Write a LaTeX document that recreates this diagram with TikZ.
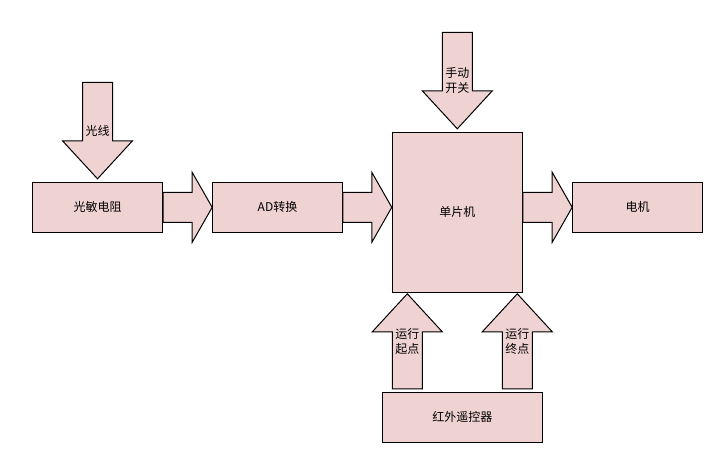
\documentclass[tikz,border=0pt]{standalone}
\usepackage{fontspec}
\setmainfont{Noto Sans CJK SC}
\usetikzlibrary{calc}
\definecolor{boxfill}{HTML}{EFD3D2}
\tikzset{
  blk/.style={draw=black, fill=boxfill, line width=1pt, line join=miter},
  boxnode/.style={draw=black, fill=boxfill, line width=1pt, inner sep=0pt, anchor=center, font=\fontsize{12}{15}\selectfont},
  lbl/.style={inner sep=0pt, align=center, font=\fontsize{12}{15}\selectfont}
}
\newcommand\myharrow[2]{%
  \draw[blk] let \p1=(#1), \p2=(#2) in
    (\x1,{\y2+15pt}) -- ({\x2-20pt},{\y2+15pt}) -- ({\x2-20pt},{\y2+35pt}) -- (\x2,\y2)
    -- ({\x2-20pt},{\y2-35pt}) -- ({\x2-20pt},{\y2-15pt}) -- (\x1,{\y2-15pt}) -- cycle;}
\newcommand\mydarrow[2]{%
  \draw[blk] let \p1=(#1), \p2=(#2) in
    ({\x1-15pt},\y1) -- ({\x1-15pt},{\y2+38pt}) -- ({\x1-35pt},{\y2+38pt}) -- (\x2,\y2)
    -- ({\x1+35pt},{\y2+38pt}) -- ({\x1+15pt},{\y2+38pt}) -- ({\x1+15pt},\y1) -- cycle;}
\newcommand\myuarrow[2]{%
  \draw[blk] let \p1=(#1), \p2=(#2) in
    ({\x1-15pt},\y1) -- ({\x1-15pt},{\y2-38pt}) -- ({\x1-35pt},{\y2-38pt}) -- (\x2,\y2)
    -- ({\x1+35pt},{\y2-38pt}) -- ({\x1+15pt},{\y2-38pt}) -- ({\x1+15pt},\y1) -- cycle;}
\begin{document}
\begin{tikzpicture}[x=1pt,y=-1pt]
\useasboundingbox (0,0) rectangle (719,459);
% boxes
\node[boxnode, minimum width=130.4pt, minimum height=50pt] (gm) at (97.5,207.3) {光敏电阻};
\node[boxnode, minimum width=129.6pt, minimum height=50pt] (ad) at (277.5,207.3) {AD转换};
\node[boxnode, minimum width=130pt, minimum height=160pt] (mcu) at (457.3,212.3) {单片机};
\node[boxnode, minimum width=129.6pt, minimum height=50pt] (dj) at (637.5,207.3) {电机};
\node[boxnode, minimum width=160pt, minimum height=50pt] (hw) at (462.3,417.3) {红外遥控器};
% free ends / tips
\coordinate (gxtop) at (97.5,82.3);
\coordinate (gxtip) at ($(gm.north)+(0,-3)$);
\coordinate (sdtop) at (457.3,32.3);
\coordinate (sdtip) at ($(mcu.north)+(0,-3)$);
\coordinate (qdbot) at ($(hw.north -| 407.3,0)+(0,-3)$);
\coordinate (qdtip) at ($(mcu.south -| 407.3,0)+(0,1)$);
\coordinate (zdbot) at ($(hw.north -| 517.3,0)+(0,-3)$);
\coordinate (zdtip) at ($(mcu.south -| 517.3,0)+(0,1)$);
% block arrows
\myharrow{gm.east}{ad.west}
\myharrow{ad.east}{mcu.west |- ad.east}
\myharrow{mcu.east |- dj.west}{dj.west}
\mydarrow{gxtop}{gxtip}
\mydarrow{sdtop}{sdtip}
\myuarrow{qdbot}{qdtip}
\myuarrow{zdbot}{zdtip}
% labels
\node[lbl] (lgx) at (97.5,131) {光线};
\node[lbl] (lsd) at (457.3,80.5) {手动\\开关};
\node[lbl] (lqd) at (407.3,341) {运行\\起点};
\node[lbl] (lzd) at (517.3,341) {运行\\终点};
\end{tikzpicture}
\end{document}
